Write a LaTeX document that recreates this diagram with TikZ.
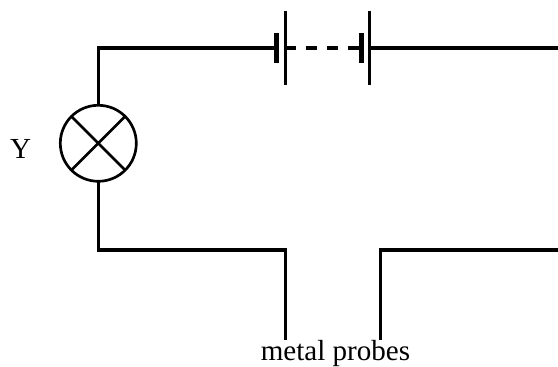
\documentclass[tikz,border=0pt]{standalone}
\usepackage{fontspec}
\setmainfont{Liberation Serif}
\tikzset{every picture/.style={line width=0.75pt}}
\tikzset{wire/.style={line width=2.3pt},
  longplate/.style={line width=2.3pt},
  shortplate/.style={line width=3.75pt},
  lampring/.style={draw,circle,line width=2pt,minimum size=57pt,inner sep=0pt,outer sep=0pt},
  label/.style={inner sep=0pt,font=\fontsize{21.8}{24}\selectfont}}

\begin{document}
\begin{tikzpicture}[x=0.75pt,y=0.75pt,yscale=-1,xscale=1]
\useasboundingbox (0,0) rectangle (558,367);

%Shape: Circle
\node [lampring] (lamp) at (98.3,143.3) {};
%Straight Lines
\draw [line width=2pt] (lamp.45) -- (lamp.225) ;
\draw [line width=2pt] (lamp.135) -- (lamp.315) ;

\coordinate (cellA) at (276.5,48);
\coordinate (plateA) at (285.5,48);
\coordinate (cellB) at (361.5,48);
\coordinate (plateB) at (369.5,48);
\coordinate (topleft) at (98.3,48);
\coordinate (topright) at (558,48);
\coordinate (botleft) at (98.3,250);
\coordinate (probeA) at (285.5,250);
\coordinate (tipA) at (285.5,340);
\coordinate (probeB) at (380.5,250);
\coordinate (tipB) at (380.5,340);
\coordinate (botright) at (558,250);

%Straight Lines
\draw [wire] (lamp.north) -- (topleft) -- (cellA) ;
\draw [wire] (plateB) -- (topright) ;
\draw [wire] (lamp.south) -- (botleft) -- (probeA) -- (tipA) ;
\draw [wire] (tipB) -- (probeB) -- (botright) ;
%Straight Lines
\draw [wire,dash pattern=on 8.25pt off 7.5pt,dash phase=0.4pt] (plateA) -- (cellB) ;
%Straight Lines
\draw [shortplate] ([yshift=-11pt]cellA) -- ([yshift=11pt]cellA) ;
\draw [longplate] ([yshift=-27.5pt]plateA) -- ([yshift=28pt]plateA) ;
\draw [shortplate] ([yshift=-11pt]cellB) -- ([yshift=11pt]cellB) ;
\draw [longplate] ([yshift=-27.5pt]plateB) -- ([yshift=28pt]plateB) ;

% Text Node
\node [label,anchor=base] (lampname) at (20.5,159) {Y};
% Text Node
\node [label,anchor=base] (probename) at (335.5,360.5) {metal probes};

\end{tikzpicture}
\end{document}
